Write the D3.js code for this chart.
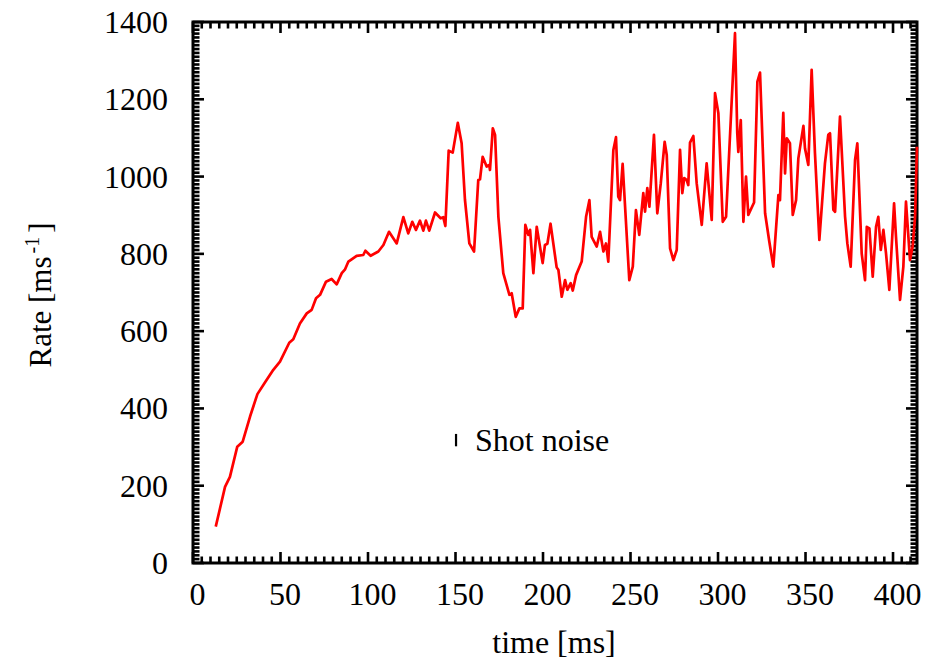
<!DOCTYPE html>
<html>
<head>
<meta charset="utf-8">
<script src="https://cdn.jsdelivr.net/npm/d3@7"></script>
<style>
  html, body { margin: 0; padding: 0; background: #fff; }
  svg { display: block; }
  text { font-family: "Liberation Serif", "Times New Roman", serif; fill: #000; }
</style>
</head>
<body>
<svg id="chart" width="926" height="664"></svg>
<script>
// Firing rate over time (ms)
const timeMs = [
  13, 18.3, 21.1, 25.3, 28.4, 32.6, 36.8, 41.1, 45.9, 49.7,
  55.0, 57.3, 61.1, 65, 67.8, 70.3, 72.6, 76, 79.2, 82.1,
  85, 86.9, 88.8, 93.5, 97.3, 98.5, 101.5, 105.9, 108.8, 112,
  116.4, 120.2, 123, 125.3, 127.4, 129.7, 131.6, 133.1, 135, 138.3,
  141.5, 143, 144.2, 146.1, 148.4, 151.3, 153.5, 155.4, 157.9, 160.6,
  163, 164, 165.5, 167.8, 169.3, 169.7, 171.3, 172.6, 174.5, 177.3,
  180.8, 182.1, 184.4, 186.5, 188.4, 189.9, 191.6, 192.6, 194.5, 196.4,
  199.8, 201.1, 202.5, 204.3, 207.8, 208.8, 210.7, 212.6, 213.9, 215.8,
  217, 218.9, 222.1, 224.6, 226.5, 227.8, 230.7, 232.6, 234.5, 236,
  237.3, 240.2, 241.7, 243, 244, 245.5, 249.3, 251.3, 253.1, 255,
  257.3, 258.3, 259.6, 260.8, 263.4, 265.3, 267.3, 269.5, 270.7, 272.6,
  274.5, 276.4, 278.3, 279.6, 280.7, 282.1, 283, 284, 285.9, 287.8,
  290.7, 293.5, 296.4, 298.3, 300.2, 302.7, 304.6, 309.7, 311, 311.6,
  313, 314.5, 316, 317.3, 320.6, 322.5, 324, 326.9, 329.3, 331.6,
  334.5, 335.4, 337.3, 338.3, 339.3, 341.1, 342.7, 344.6, 345.9, 348.8,
  349.7, 351.6, 353.5, 355.4, 357.9, 361.1, 363, 364, 365.9, 366.9,
  369.7, 372.6, 373.9, 375.8, 378.3, 379.6, 382.1, 384, 385, 386.5,
  388.4, 390.3, 391.6, 393, 394.5, 396, 397.9, 400.6, 401.7, 404,
  405.9, 407.4, 409.7, 411.2, 412.6, 413.7
];
const rateValues = [
  94, 197, 223, 301, 314, 379, 437, 467, 500, 521,
  570, 579, 620, 646, 655, 685, 694, 728, 735, 721,
  750, 760, 780, 795, 797, 808, 795, 806, 823, 857,
  827, 895, 853, 883, 862, 886, 860, 886, 860, 907,
  892, 895, 872, 1067, 1062, 1139, 1086, 940, 827, 806,
  991, 993, 1051, 1026, 1030, 1017, 1125, 1108, 896, 750,
  694, 698, 637, 659, 659, 875, 849, 862, 750, 870,
  776, 823, 826, 878, 765, 758, 689, 732, 707, 724,
  705, 745, 780, 896, 939, 844, 819, 857, 806, 827,
  780, 1069, 1102, 948, 939, 1033, 732, 767, 913, 849,
  957, 909, 970, 922, 1108, 905, 983, 1090, 1056, 814,
  784, 810, 1069, 957, 996, 991, 978, 1088, 1105, 983,
  875, 1034, 888, 1216, 1164, 883, 896, 1371, 1112, 1064,
  1146, 883, 1000, 901, 933, 1246, 1269, 905, 832, 767,
  952, 939, 1165, 1008, 1099, 1086, 901, 939, 1047, 1131,
  1073, 1030, 1276, 1060, 836, 1034, 1108, 1112, 914, 909,
  1155, 896, 827, 767, 1043, 1086, 801, 732, 870, 866,
  741, 870, 896, 810, 862, 801, 707, 931, 844, 681,
  767, 935, 784, 819, 896, 1077
];

// Shot-noise error bar: position (ms, rate) and half-height
const shotNoiseTime = 150.3;
const shotNoiseRate = 318;
const shotNoiseHalf = 16;
const legendLabel = "Shot noise";

// Axis ticks
const xMajorTicks = [0, 50, 100, 150, 200, 250, 300, 350, 400];
const yMajorTicks = [0, 200, 400, 600, 800, 1000, 1200, 1400];
const xMinorStep = 5;
const yMinorStep = 10;
const xDomain = [0, 413.7];
const yDomain = [0, 1400];

const svg = d3.select("#chart");
const margin = { left: 193, top: 22, right: 9, bottom: 101 };
const W = 926, H = 664;
const iw = W - margin.left - margin.right;
const ih = H - margin.top - margin.bottom;

const x = d3.scaleLinear().domain(xDomain).range([0, iw]);
const y = d3.scaleLinear().domain(yDomain).range([ih, 0]);

const g = svg.append("g").attr("transform", `translate(${margin.left},${margin.top})`);

const xMinor = d3.range(0, xDomain[1], xMinorStep);
const yMinor = d3.range(yDomain[0], yDomain[1] + 1, yMinorStep);
const MAJOR = 11, MINOR = 6.5, TICK_W = 2.6;

// frame
g.append("rect")
  .attr("x", 0).attr("y", 0).attr("width", iw).attr("height", ih)
  .attr("fill", "none").attr("stroke", "#000").attr("stroke-width", 3);

// inward tick marks on all four sides, drawn as small filled bars
const tickLayer = g.append("g").attr("fill", "#000");
function addXTicks(vals) {
  vals.forEach(v => {
    const len = xMajorTicks.includes(v) ? MAJOR : MINOR;
    const px = x(v);
    tickLayer.append("rect").attr("x", px - TICK_W / 2).attr("y", ih - len).attr("width", TICK_W).attr("height", len);
    tickLayer.append("rect").attr("x", px - TICK_W / 2).attr("y", 0).attr("width", TICK_W).attr("height", len);
  });
}
function addYTicks(vals) {
  vals.forEach(v => {
    const len = yMajorTicks.includes(v) ? MAJOR : MINOR;
    const py = y(v);
    tickLayer.append("rect").attr("x", 0).attr("y", py - TICK_W / 2).attr("width", len).attr("height", TICK_W);
    tickLayer.append("rect").attr("x", iw - len).attr("y", py - TICK_W / 2).attr("width", len).attr("height", TICK_W);
  });
}
addXTicks(xMinor);
addYTicks(yMinor);

// tick labels via d3 axes (tick lines suppressed)
const fontStack = '"Liberation Serif", "Times New Roman", serif';
const xAxis = g.append("g").attr("transform", `translate(0,${ih})`)
  .call(d3.axisBottom(x).tickValues(xMajorTicks).tickSize(0).tickPadding(18).tickFormat(d3.format("d")));
xAxis.select(".domain").remove();
xAxis.selectAll("text").attr("font-size", 32).attr("dx", 4).attr("dy", "0.74em")
  .style("font-family", fontStack).attr("fill", "#000");

const yAxis = g.append("g")
  .call(d3.axisLeft(y).tickValues(yMajorTicks).tickSize(0).tickPadding(25).tickFormat(d3.format("d")));
yAxis.select(".domain").remove();
yAxis.selectAll("text").attr("font-size", 32).attr("dy", "0.33em")
  .style("font-family", fontStack).attr("fill", "#000");

// rate trace
const series = timeMs.map((t, i) => ({ t, r: rateValues[i] }));
g.append("path")
  .datum(series)
  .attr("fill", "none")
  .attr("stroke", "#ff0000")
  .attr("stroke-width", 2.7)
  .attr("stroke-linejoin", "round")
  .attr("d", d3.line().x(d => x(d.t)).y(d => y(d.r)));

// shot-noise error bar and its label
g.append("line")
  .attr("x1", x(shotNoiseTime)).attr("x2", x(shotNoiseTime))
  .attr("y1", y(shotNoiseRate + shotNoiseHalf)).attr("y2", y(shotNoiseRate - shotNoiseHalf))
  .attr("stroke", "#000").attr("stroke-width", 2.2);
g.append("text")
  .attr("x", x(shotNoiseTime) + 19)
  .attr("y", y(shotNoiseRate) + 11)
  .attr("font-size", 32)
  .text(legendLabel);

// axis titles
svg.append("text")
  .attr("x", 554).attr("y", 653)
  .attr("text-anchor", "middle")
  .attr("font-size", 32)
  .text("time [ms]");

const yl = svg.append("text")
  .attr("transform", "translate(51,295) rotate(-90)")
  .attr("text-anchor", "middle")
  .attr("font-size", 31);
yl.append("tspan").text("Rate [ms");
yl.append("tspan").attr("font-size", 20).attr("dx", 3).attr("dy", -12).text("-1");
yl.append("tspan").attr("dx", 4).attr("dy", 12).text("]");
</script>
</body>
</html>
